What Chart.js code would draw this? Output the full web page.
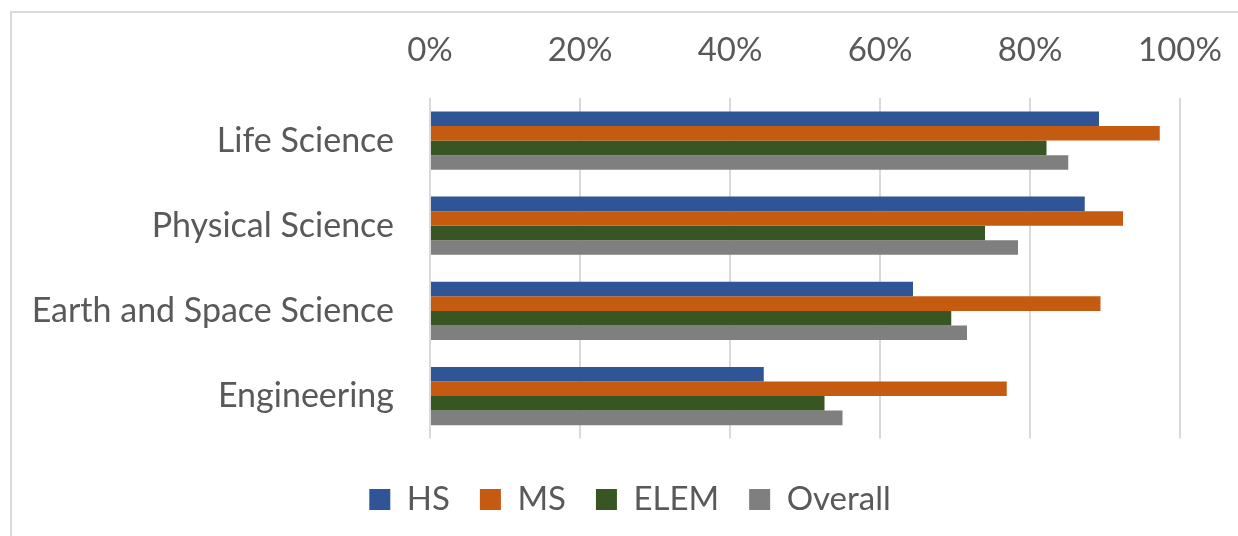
<!DOCTYPE html>
<html>
<head>
<meta charset="utf-8">
<script src="https://cdn.jsdelivr.net/npm/chart.js@4/dist/chart.umd.min.js"></script>
<style>
  html, body { margin: 0; padding: 0; background: #fff; overflow: hidden; }
  #wrap { position: relative; width: 1238px; height: 536px; }
  #frame { position: absolute; left: 10px; top: 11px; width: 1300px; height: 600px;
           border: 2px solid #dadada; box-sizing: border-box; }
  #grafico { position: absolute; left: 0; top: 0; }
</style>
</head>
<body>
<div id="wrap">
  <div id="frame"></div>
  <canvas id="grafico" width="1238" height="536"></canvas>
</div>
<script>
// survey data (percent of teachers)
var categorias = ["Life Science", "Physical Science", "Earth and Space Science", "Engineering"];
var hs = [89.2, 87.3, 64.4, 44.5];
var ms = [97.3, 92.4, 89.4, 76.9];
var elem = [82.2, 74.0, 69.5, 52.6];
var overall = [85.1, 78.4, 71.6, 55.0];
var tickValues = [0, 20, 40, 60, 80, 100];

var fonte = "Lato";
var corTexto = "#595959";

function serie(nome, cor, valores){
    return { label: nome, backgroundColor: cor, data: valores, xAxisID: 'x', yAxisID: 'y' };
}

function grafCiencia(){
    var dataCiencia = {
        labels: categorias,
        datasets: [
            serie("HS", "#2f5597", hs),
            serie("MS", "#c55a11", ms),
            serie("ELEM", "#375623", elem),
            serie("Overall", "#7f7f7f", overall)
        ]
    };

    var ctx = document.getElementById('grafico').getContext("2d");
    var myChart = new Chart(ctx, {
        type: 'bar',
        data: dataCiencia,
        options: {
            indexAxis: 'y',
            responsive: false,
            animation: false,
            layout: { padding: { left: 22, right: 0, top: 0, bottom: 10 } },
            datasets: { bar: { barPercentage: 1, categoryPercentage: 0.684 } },
            scales: {
                x: {
                    position: 'top',
                    min: 0,
                    max: 100,
                    afterBuildTicks: function (axis) {
                        axis.ticks = tickValues.map(function (v) { return { value: v }; });
                    },
                    afterFit: function (axis) {
                        axis.height = 98;
                        axis.paddingLeft = 0;
                        axis.paddingRight = 0;
                    },
                    grid: { color: "#d9d9d9", lineWidth: 2, drawTicks: false },
                    border: { display: false },
                    ticks: {
                        padding: 28,
                        color: corTexto,
                        font: { family: fonte, size: 33 },
                        callback: function (v) { return v + "%"; }
                    }
                },
                y: {
                    afterFit: function (axis) { axis.width = 430 - 22; },
                    grid: { display: false, drawTicks: false },
                    border: { display: false },
                    ticks: {
                        padding: 36,
                        color: corTexto,
                        font: { family: fonte, size: 34 }
                    }
                },
                // empty boxes that only hold space around the plot
                x2: {
                    position: 'bottom',
                    axis: 'x',
                    afterFit: function (axis) { axis.height = 14.4; },
                    grid: { display: false, drawTicks: false },
                    border: { display: false },
                    ticks: { display: false }
                },
                y2: {
                    type: 'linear',
                    position: 'right',
                    axis: 'y',
                    afterFit: function (axis) { axis.width = 58; },
                    grid: { display: false, drawTicks: false },
                    border: { display: false },
                    ticks: { display: false }
                }
            },
            plugins: {
                tooltip: { enabled: false },
                legend: {
                    position: 'bottom',
                    labels: {
                        boxWidth: 21,
                        boxHeight: 21,
                        padding: 30,
                        color: corTexto,
                        font: { family: fonte, size: 33 }
                    }
                }
            }
        }
    });
}

grafCiencia();
</script>
</body>
</html>
